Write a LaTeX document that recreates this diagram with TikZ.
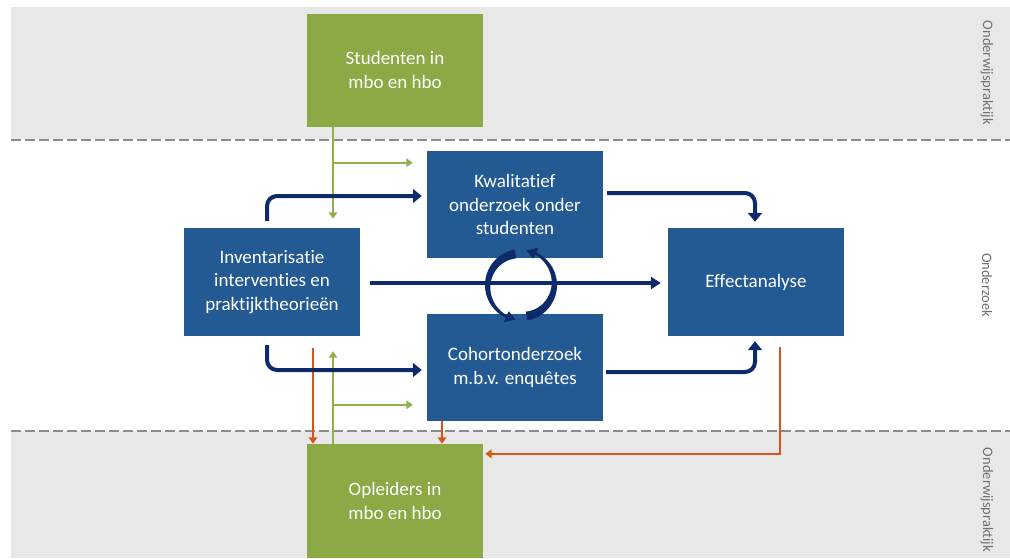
\documentclass[tikz,border=0pt]{standalone}
\usepackage{fontspec}
\setmainfont{Carlito}[Ligatures={NoCommon}]
\usetikzlibrary{arrows.meta,calc}
\definecolor{boxgreen}{HTML}{8BAA46}
\definecolor{linegreen}{HTML}{8FB24C}
\definecolor{boxblue}{HTML}{245A94}
\definecolor{navy}{HTML}{0D2B6B}
\definecolor{orangeline}{HTML}{D4561A}
\definecolor{bandgray}{HTML}{E8E8E8}
\definecolor{dashgray}{HTML}{8C8C8C}
\definecolor{sidegray}{HTML}{707070}
\tikzset{
  boxtext/.style={text=white, align=center, inner sep=0pt,
    font=\fontsize{19}{23.5}\selectfont},
  gbox/.style={boxtext, fill=boxgreen, minimum width=176pt},
  bbox/.style={boxtext, fill=boxblue, minimum width=176pt},
  sidelabel/.style={text=sidegray, font=\fontsize{14.5}{17}\selectfont, rotate=-90, inner sep=0pt},
  dashline/.style={draw=dashgray, line width=2.5pt, dash pattern=on 10pt off 4pt},
  garrow/.style={draw=linegreen, line width=1.6pt, -{Triangle[length=6.5pt,width=8.5pt]}},
  oarrow/.style={draw=orangeline, line width=1.6pt, -{Triangle[length=6.5pt,width=8.5pt]}},
  narrow/.style={draw=navy, line width=4pt, rounded corners=10pt, -{Triangle[length=9pt,width=14pt]}},
  nmid/.style={draw=navy, line width=3.2pt, -{Triangle[length=10pt,width=12pt]}},
}
\begin{document}
\begin{tikzpicture}[x=1pt,y=-1pt]
\useasboundingbox (0,0) rectangle (1010,558);
\fill[white] (0,0) rectangle (1010,558);
\fill[bandgray] (11,7) rectangle (1010,139);
\fill[bandgray] (11,431) rectangle (1010,558);
\draw[dashline] (11,140) -- (1010,140);
\draw[dashline] (11,431) -- (1010,431);

% side labels
\node[sidelabel] (lab1) at (987,73) {Onderwijspraktijk};
\node[sidelabel] (lab2) at (987,285) {Onderzoek};
\node[sidelabel] (lab3) at (987,500) {Onderwijspraktijk};

% boxes
\node[gbox, minimum height=113pt] (stud) at (395,70) {Studenten in\\mbo en hbo};
\node[gbox, minimum height=114pt] (opl) at (395,501) {Opleiders in\\mbo en hbo};
\node[bbox, minimum height=107pt] (kwal) at (515,204.5) {Kwalitatief\\onderzoek onder\\studenten};
\node[bbox, minimum height=107pt] (coh) at (515,367.5) {Cohortonderzoek\\m.b.v. enquêtes};
\node[bbox, minimum height=108pt] (inv) at (272,282) {Inventarisatie\\interventies en\\praktijktheorieën};
\node[bbox, minimum height=108pt] (eff) at (756,282) {Effectanalyse};

% green connectors
\coordinate (gs) at ([xshift=-62pt]stud.south);
\draw[garrow, shorten >=9pt] (gs) -- (gs |- inv.north);
\coordinate (gb1) at ($(gs)+(0,36)$);
\draw[garrow, shorten >=14pt] (gb1) -- (gb1 -| kwal.west);
\coordinate (go) at ([xshift=-62pt]opl.north);
\draw[garrow, shorten >=15pt] (go) -- (go |- inv.south);
\coordinate (gb2) at ($(go)+(0,-39)$);
\draw[garrow, shorten >=14pt] (gb2) -- (gb2 -| coh.west);

% orange connectors
\coordinate (o1) at ([xshift=41pt,yshift=-12pt]inv.south);
\draw[oarrow] (o1) -- (o1 |- opl.north);
\coordinate (o2) at ([xshift=-73pt]coh.south);
\draw[oarrow] (o2) -- (o2 |- opl.north);
\coordinate (o3) at ([xshift=24pt,yshift=-11pt]eff.south);
\coordinate (ocorner) at ($(opl.north east)+(2,10)$);
\draw[oarrow] (o3) |- (ocorner);

% navy connectors
\draw[narrow] ([xshift=-5pt,yshift=7pt]inv.north) |- ([xshift=-5pt,yshift=8.5pt]kwal.west);
\draw[narrow] ([xshift=-5pt,yshift=-9pt]inv.south) |- ([xshift=-5pt,yshift=-2.5pt]coh.west);
\draw[narrow] ([xshift=4pt,yshift=11.5pt]kwal.east) -| ([xshift=-1pt,yshift=6pt]eff.north);
\draw[narrow] ([xshift=3pt,yshift=-4.5pt]coh.east) -| ([xshift=-1pt,yshift=-5pt]eff.south);
\draw[nmid] ([xshift=10pt,yshift=-1pt]inv.east) -- ([xshift=-7pt,yshift=-1pt]eff.west);

% circular arrows
\begin{scope}[shift={(521,285)}, yscale=-1]
  \fill[navy] plot[domain=100:245,samples=40] ({36*cos(\x)},{36*sin(\x)})
    -- (245:41) -- (261:35) -- (245:29)
    -- plot[domain=245:100,samples=40] ({(33.5-6.5*(245-\x)/145)*cos(\x)},{(33.5-6.5*(245-\x)/145)*sin(\x)}) -- cycle;
  \fill[navy] plot[domain=-80:65,samples=40] ({36*cos(\x)},{36*sin(\x)})
    -- (65:41) -- (81:35) -- (65:29)
    -- plot[domain=65:-80,samples=40] ({(33.5-6.5*(65-\x)/145)*cos(\x)},{(33.5-6.5*(65-\x)/145)*sin(\x)}) -- cycle;
\end{scope}
\end{tikzpicture}
\end{document}
